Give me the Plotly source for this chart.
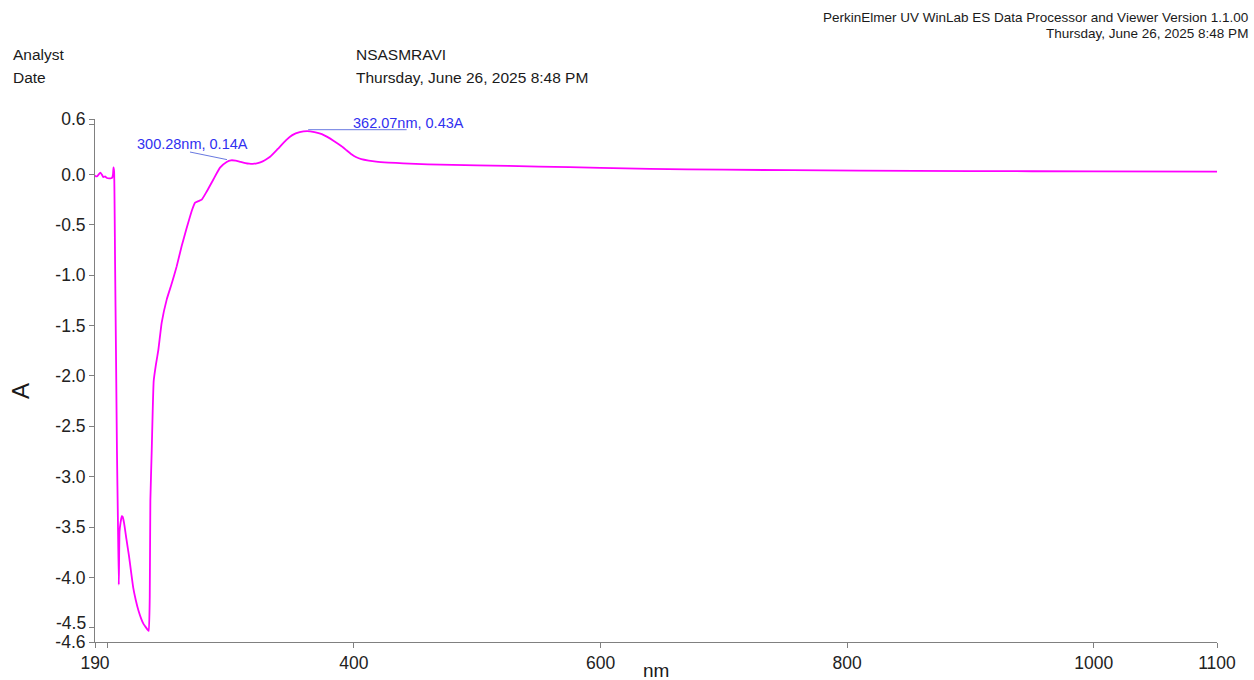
import plotly.graph_objects as go

# Spectrum: wavelength (nm) and absorbance (A)
wavelength_nm = [
    190.0, 191.0, 192.0, 193.0, 194.3, 195.5, 196.8, 198.2, 199.7, 201.5,
    203.0, 204.0, 204.6, 205.0, 205.5, 206.3, 207.0, 207.8, 208.6, 209.3,
    209.9, 210.8, 211.7, 212.5, 213.6, 215.5, 217.5, 219.0, 221.0, 223.0,
    225.3, 227.5, 229.3, 231.0, 232.8, 233.6, 234.4, 234.9, 236.0, 236.8,
    237.6, 239.5, 241.4, 244.1, 248.2, 252.3, 256.3, 260.3, 264.4, 268.5,
    271.2, 273.9, 276.6, 280.6, 286.0, 291.4, 296.8, 300.28, 304.0, 308.0,
    312.0, 315.0, 318.0, 322.0, 326.0, 329.0, 332.0, 338.0, 345.0, 350.0,
    356.0, 362.07, 368.0, 374.0, 378.0, 384.0, 390.0, 394.0, 398.0, 402.0,
    406.0, 412.0, 418.0, 428.0, 440.0, 460.0, 480.0, 500.0, 550.0, 600.0,
    640.0, 700.0, 810.0, 900.0, 1000.0, 1100.0,
]
absorbance = [
    -0.01, -0.02, -0.015, 0.0, 0.017, 0.0, -0.027, -0.02, -0.036, -0.04,
    -0.038, -0.03, 0.0, 0.07, 0.03, -0.9, -1.74, -2.74, -3.44, -4.07,
    -3.54, -3.45, -3.39, -3.40, -3.46, -3.62, -3.78, -3.92, -4.10, -4.22,
    -4.33, -4.41, -4.46, -4.49, -4.52, -4.53, -4.2, -3.24, -2.74, -2.35,
    -2.05, -1.88, -1.74, -1.47, -1.24, -1.08, -0.91, -0.71, -0.53, -0.36,
    -0.28, -0.265, -0.25, -0.17, -0.05, 0.067, 0.124, 0.14, 0.137, 0.125,
    0.113, 0.107, 0.105, 0.113, 0.13, 0.15, 0.175, 0.25, 0.34, 0.39,
    0.42, 0.43, 0.42, 0.40, 0.375, 0.33, 0.28, 0.24, 0.20, 0.17,
    0.152, 0.138, 0.128, 0.118, 0.11, 0.10, 0.095, 0.09, 0.078, 0.065,
    0.055, 0.047, 0.037, 0.033, 0.03, 0.027,
]

# Labelled peaks
peak_nm = [300.28, 362.07]
peak_abs = [0.14, 0.43]

# Axis ticks
x_tickvals = [190, 200, 400, 600, 800, 1000, 1100]
x_ticktext = ["190", "", "400", "600", "800", "1000", "1100"]
y_tickvals = [0.55, 0.5, 0.0, -0.5, -1.0, -1.5, -2.0, -2.5, -3.0, -3.5, -4.0, -4.5, -4.64]
y_ticktext = ["0.6", "", "0.0", "-0.5", "-1.0", "-1.5", "-2.0", "-2.5", "-3.0", "-3.5", "-4.0", "", "-4.6"]

# Report header
analyst = "NSASMRAVI"
run_date = "Thursday, June 26, 2025 8:48 PM"
software = "PerkinElmer UV WinLab ES Data Processor and Viewer Version 1.1.00"

W, H = 1254, 680
ML, MR, MT, MB = 95, 37, 119, 38
PW, PH = W - ML - MR, H - MT - MB
FONT = "Liberation Sans, Arial, sans-serif"
AXIS_GREY = "#808080"
LABEL_BLUE = "#3030f0"
LEADER_BLUE = "#6878e0"


def px(x):
    return (x - ML) / PW


def py(y):
    return (H - MB - y) / PH


fig = go.Figure()
fig.add_trace(go.Scatter(
    x=wavelength_nm, y=absorbance, mode="lines",
    line=dict(color="#ff00ff", width=1.8, shape="spline", smoothing=0.4),
    hoverinfo="skip", showlegend=False,
))

annotations = []

# header block
for text, x, y, anchor, size in [
    ("Analyst", 11, 54, "left", 15.5),
    ("Date", 11, 77, "left", 15.5),
    (analyst, 354, 54, "left", 15.5),
    (run_date, 354, 77, "left", 15.5),
    (software, 1250, 18, "right", 13.5),
    (run_date, 1250, 34, "right", 13.5),
]:
    annotations.append(dict(
        text=text, xref="paper", yref="paper", x=px(x), y=py(y),
        xanchor=anchor, yanchor="middle", showarrow=False,
        font=dict(family=FONT, size=size, color="#1a1a1a"),
    ))

# axis titles
annotations.append(dict(
    text="A", xref="paper", yref="paper", x=px(20), y=py(391),
    xanchor="center", yanchor="middle", textangle=-90, showarrow=False,
    font=dict(family=FONT, size=24, color="#1a1a1a"),
))
annotations.append(dict(
    text="nm", xref="paper", yref="paper", x=0.5, y=py(670),
    xanchor="center", yanchor="middle", showarrow=False,
    font=dict(family=FONT, size=19, color="#1a1a1a"),
))

# -4.5 tick label lifted clear of the -4.6 end label
annotations.append(dict(
    text="-4.5", xref="paper", yref="y", x=0, y=-4.5, xanchor="right",
    yanchor="middle", xshift=-7, yshift=5, showarrow=False,
    font=dict(family=FONT, size=17.5, color="#222222"),
))

# peak labels and leader lines
label_offsets = [(-38.4, 16), (101.8, 8)]
leader_offsets = [((-41, 8.3), (-4, 0.7)), ((1, 1.4), (99.5, 1.4))]
shapes = []
for nm, a, (dx, dy), ((x0, y0), (x1, y1)) in zip(peak_nm, peak_abs, label_offsets, leader_offsets):
    annotations.append(dict(
        text=f"{nm:.2f}nm, {a:.2f}A", xref="x", yref="y", x=nm, y=a,
        xanchor="center", yanchor="middle", xshift=dx, yshift=dy,
        showarrow=False, font=dict(family=FONT, size=14.5, color=LABEL_BLUE),
    ))
    shapes.append(dict(
        type="line", xref="x", yref="y",
        xsizemode="pixel", xanchor=nm, ysizemode="pixel", yanchor=a,
        x0=x0, y0=y0, x1=x1, y1=y1,
        line=dict(color=LEADER_BLUE, width=1),
    ))

axis_common = dict(
    showgrid=False, zeroline=False, showline=True, linecolor=AXIS_GREY,
    linewidth=1, ticks="outside", ticklen=5, tickcolor=AXIS_GREY,
    tickwidth=1, tickfont=dict(family=FONT, size=17.5, color="#222222"),
)

fig.update_layout(
    width=W, height=H, autosize=False,
    margin=dict(l=ML, r=MR, t=MT, b=MB, pad=0),
    paper_bgcolor="white", plot_bgcolor="white",
    xaxis=dict(
        range=[190, 1100], tickmode="array", tickvals=x_tickvals,
        ticktext=x_ticktext, automargin=False,
        **axis_common,
    ),
    yaxis=dict(
        range=[-4.64, 0.55], tickmode="array", tickvals=y_tickvals,
        ticktext=y_ticktext, automargin=False,
        **axis_common,
    ),
    annotations=annotations, shapes=shapes,
)

fig.write_html("out.html")
